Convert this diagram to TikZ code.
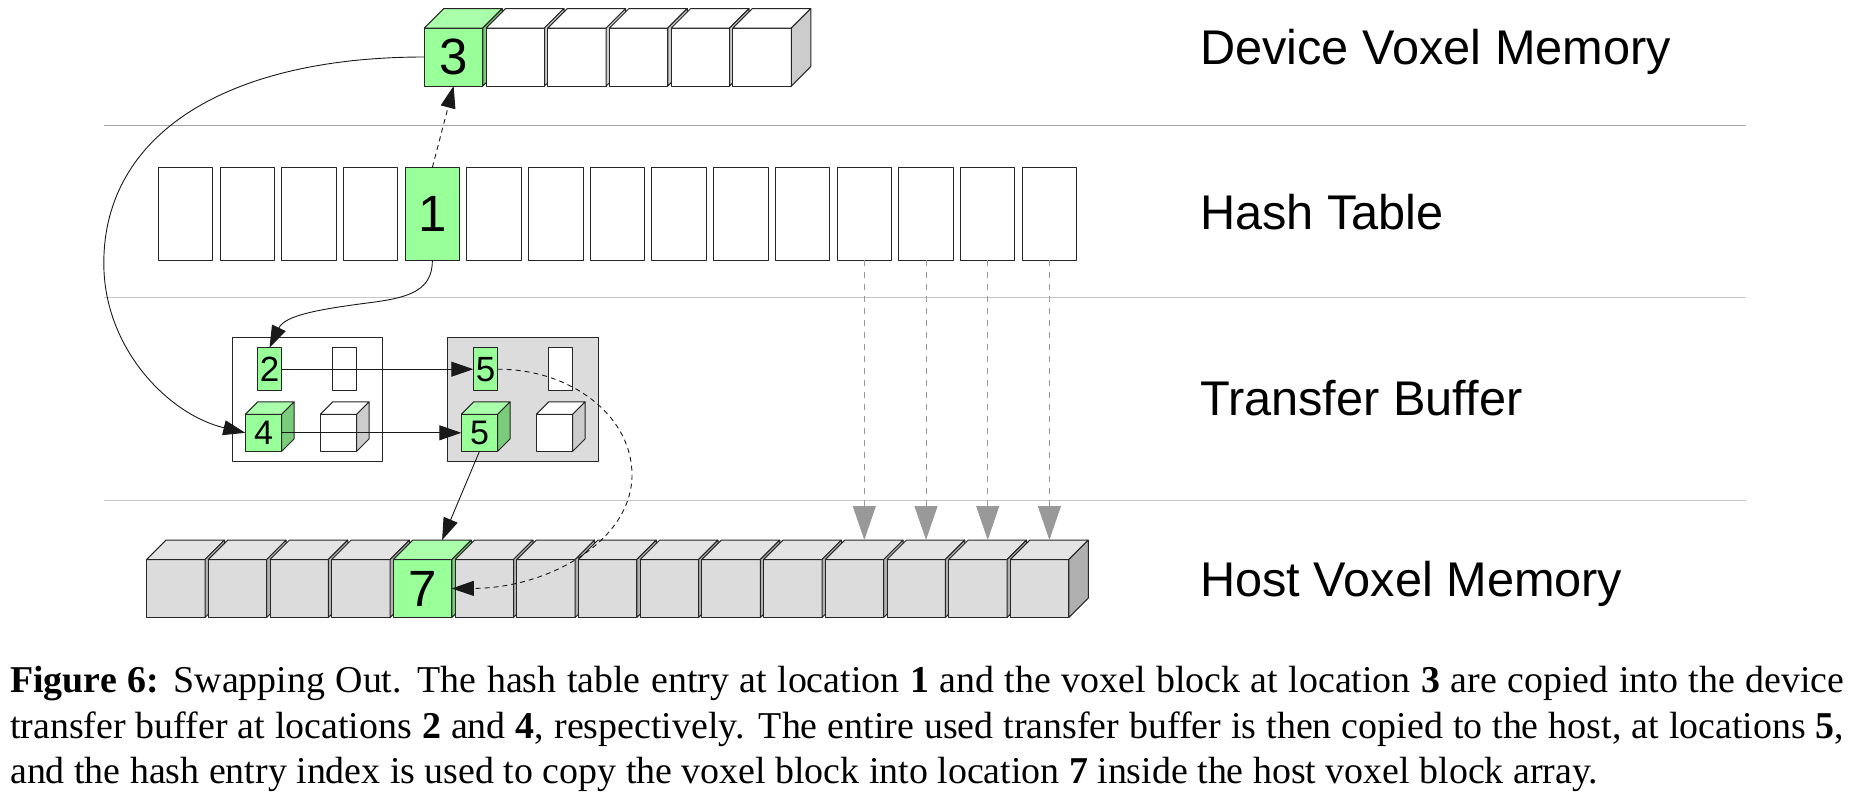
\documentclass[tikz,border=0pt]{standalone}
\usepackage{fontspec}
\setmainfont{Liberation Serif}
\setsansfont{Liberation Sans}
\usetikzlibrary{arrows.meta,calc}
\definecolor{greenfront}{HTML}{99FF99}
\definecolor{greentop}{HTML}{AAFFAA}
\definecolor{greenside}{HTML}{7ACC7A}
\definecolor{greyfront}{HTML}{DCDCDC}
\definecolor{greytop}{HTML}{E4E4E4}
\definecolor{greyside}{HTML}{B0B0B0}
\definecolor{whitefront}{HTML}{FFFFFF}
\definecolor{whitetop}{HTML}{FFFFFF}
\definecolor{whiteside}{HTML}{CCCCCC}
\tikzset{
  edge/.style={draw=black!85,line width=1pt,line join=bevel},
  cell/.style={edge,inner sep=0pt,outer sep=0pt,font=\sffamily\fontsize{51}{53}\selectfont},
  bigblock/.style={cell,minimum width=58.4pt,minimum height=58pt},
  smallblock/.style={cell,minimum width=36.4pt,minimum height=37pt,font=\sffamily\fontsize{34}{36}\selectfont},
  hashcell/.style={cell,minimum width=54.5pt,minimum height=92.7pt},
  tinycell/.style={cell,minimum width=24.4pt,minimum height=43pt,font=\sffamily\fontsize{35}{37}\selectfont},
  bufferbox/.style={cell,minimum width=150.3pt,minimum height=124pt},
  rowlabel/.style={anchor=base west,inner sep=0pt,font=\sffamily\fontsize{48.7}{50}\selectfont},
  rowline/.style={line width=1.3pt},
  flow/.style={->,line width=0.9pt,black!90},
  flowdash/.style={flow,dash pattern=on 5pt off 4pt},
  hostflow/.style={-{Triangle[length=34pt,width=23pt]},line width=1pt,color=black!40,dash pattern=on 6pt off 6pt},
}
% name, x, y, colour set, size style, depth, label
\newcommand{\voxelblock}[7]{%
  \node (#1) at (#2,#3) [#5,fill=#4front] {#7};
  \draw[edge,fill=#4top] (#1.north west) -- ++(#6,-#6) -- ($(#1.north east)+(#6,-#6)$) -- (#1.north east) -- cycle;
  \draw[edge,fill=#4side] (#1.north east) -- ++(#6,-#6) -- ($(#1.south east)+(#6,-#6)$) -- (#1.south east) -- cycle;
}
\begin{document}
\begin{tikzpicture}[x=1pt,y=-1pt,>={Triangle[length=22pt,width=15pt]}]
  \useasboundingbox (0,0) rectangle (1854,798);
  % rows
  \draw [rowline,color=black!35] (104,125.7) -- (1746,125.7);
  \draw [rowline,color=black!22] (104,297.7) -- (1746,297.7);
  \draw [rowline,color=black!22] (104,500.8) -- (1746,500.8);
  \node (device) at (1200,64) [rowlabel] {Device Voxel Memory};
  \node (hash) at (1200,229) [rowlabel] {Hash Table};
  \node (transfer) at (1200,415) [rowlabel] {Transfer Buffer};
  \node (host) at (1200,596) [rowlabel] {Host Voxel Memory};
  % device voxel memory
  \voxelblock{d0}{453.6}{57}{green}{bigblock}{19.5}{3}
  \foreach \i in {1,...,5}
    \voxelblock{d\i}{453.6+\i*61.7}{57}{white}{bigblock}{19.5}{};
  % hash table
  \foreach \i in {0,...,14}
    \node (h\i) at (185.6+\i*61.7,213.7) [hashcell,fill=white] {};
  \node (h4) at (185.6+4*61.7,213.7) [hashcell,fill=greenfront] {1};
  % transfer buffer
  \node (src) at (307.2,399.3) [bufferbox,fill=white] {};
  \node (dst) at (522.9,399.3) [bufferbox,fill=greyfront] {};
  \node (e2) at (269.5,369.2) [tinycell,fill=greenfront] {2};
  \node (e2b) at (344.5,369.2) [tinycell,fill=white] {};
  \node (e5) at (485.5,369.2) [tinycell,fill=greenfront] {5};
  \node (e5b) at (560.5,369.2) [tinycell,fill=white] {};
  \voxelblock{b4}{263.5}{432.8}{green}{smallblock}{12.5}{4}
  \voxelblock{b4b}{338.5}{432.8}{white}{smallblock}{12.5}{}
  \voxelblock{b5}{479.5}{432.8}{green}{smallblock}{12.5}{5}
  \voxelblock{b5b}{554.5}{432.8}{white}{smallblock}{12.5}{}
  % host voxel memory
  \foreach \i in {0,...,14} {
    \ifnum\i=4 \def\blockset{green}\def\blocktext{7}\else\def\blockset{grey}\def\blocktext{}\fi
    \voxelblock{m\i}{175.8+\i*61.7}{588.5}{\blockset}{bigblock}{19.5}{\blocktext}
  }
  \coordinate (memtop) at (0,540);
  \coordinate (swing) at (103.8,263);
  \coordinate (bend) at (375,302);
  \coordinate (turn) at (632,475);
  \coordinate (m4top) at ($(m4.north)+(19.5,-19.5)$);
  % copies
  \draw [flowdash] (h4.north) -- (d0.south);
  \draw [flow] (d0.west) .. controls (225,57) and (103.8,135) .. (swing)
    .. controls (103.8,350) and (170,415) .. (b4.west);
  \draw [flow] (h4.south) .. controls (432.5,290) and (410,297) .. (bend)
    .. controls (320,309) and (285,315) .. (e2.north);
  \draw [flow] (e2.east) -- (e5.west);
  \draw [flow] (b4.east) -- (b5.west);
  \draw [flow] (b5.south) -- (m4top);
  \draw [flowdash] (e5.east) .. controls (570,369) and (632,415) .. (turn)
    .. controls (632,540) and (550,588) .. (m4.east);
  \foreach \i in {11,...,14}
    \draw [hostflow] (h\i.south) -- (h\i.south |- memtop);
  % caption
  \node (caption) at (10,666) [anchor=north west,inner sep=0pt,text width=1834pt,align=justify,
    font=\rmfamily\fontsize{37.9}{45.6}\selectfont] {\textbf{Figure 6:} Swapping Out. The hash table entry at location \textbf{1} and the voxel block at location \textbf{3} are copied into the device\linebreak transfer buffer at locations \textbf{2} and \textbf{4}, respectively. The entire used transfer buffer is then copied to the host, at locations \textbf{5},\linebreak and the hash entry index is used to copy the voxel block into location \textbf{7} inside the host voxel block array.};
\end{tikzpicture}
\end{document}
